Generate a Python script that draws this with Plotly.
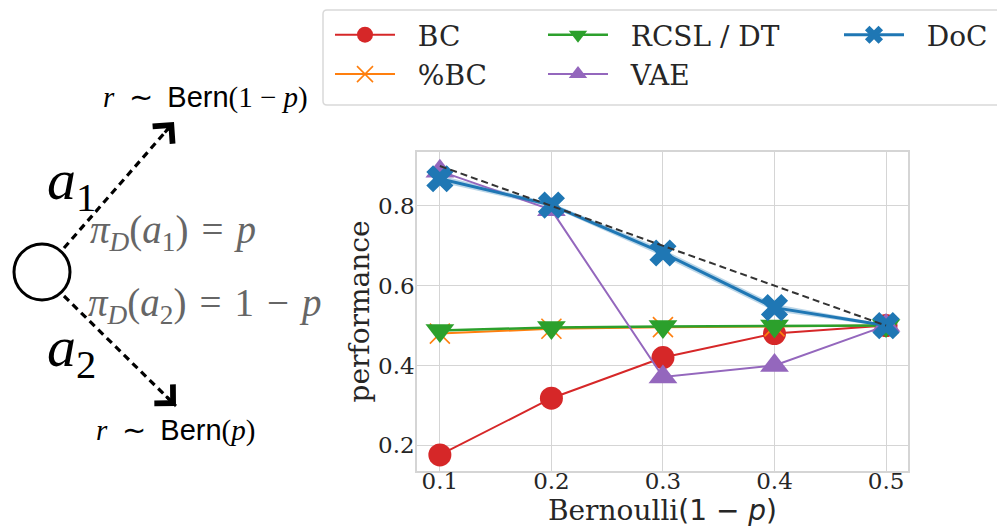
import plotly.graph_objects as go

# ---------------- data ----------------
x_vals = [0.1, 0.2, 0.3, 0.4, 0.5]
bc = [0.176, 0.318, 0.420, 0.480, 0.500]
pct_bc = [0.480, 0.492, 0.496, 0.498, 0.500]
rcsl_dt = [0.488, 0.495, 0.498, 0.499, 0.500]
vae = [0.887, 0.790, 0.371, 0.400, 0.500]
doc = [0.868, 0.802, 0.682, 0.545, 0.500]
doc_lo = [0.859, 0.797, 0.673, 0.536, 0.497]
doc_hi = [0.877, 0.807, 0.691, 0.554, 0.503]
optimal = [0.9, 0.8, 0.7, 0.6, 0.5]
x_ticks = [0.1, 0.2, 0.3, 0.4, 0.5]
y_ticks = [0.2, 0.4, 0.6, 0.8]

# ---------------- geometry helpers ----------------
W, H = 997, 527
ML, MR, MT, MB = 417, 89, 152, 56
PW, PH = W - ML - MR, H - MT - MB


def px(x):
    return (x - ML) / PW


def py(y):
    return (H - MB - y) / PH


SERIF = "DejaVu Serif"
TXT = "#262626"
NB = "\u00a0\u00a0"

fig = go.Figure()

# DoC band
fig.add_trace(go.Scatter(x=x_vals + x_vals[::-1], y=doc_hi + doc_lo[::-1], fill="toself",
                         fillcolor="rgba(31,119,180,0.3)", line=dict(width=0),
                         showlegend=False, hoverinfo="skip"))

common = dict(mode="lines+markers")
fig.add_trace(go.Scatter(x=x_vals, y=bc, name=NB + "BC", legend="legend", **common,
                         line=dict(color="#d62728", width=2),
                         marker=dict(symbol="circle", size=23, color="#d62728")))
fig.add_trace(go.Scatter(x=x_vals, y=pct_bc, name=NB + "%BC", legend="legend", **common,
                         line=dict(color="#ff7f0e", width=2),
                         marker=dict(symbol="x-thin-open", size=20, color="#ff7f0e",
                                     line=dict(width=1.6, color="#ff7f0e"))))
fig.add_trace(go.Scatter(x=x_vals, y=rcsl_dt, name=NB + "RCSL / DT", legend="legend2", **common,
                         line=dict(color="#2ca02c", width=2.5),
                         marker=dict(symbol="triangle-down", size=25, color="#2ca02c")))
fig.add_trace(go.Scatter(x=x_vals, y=vae, name=NB + "VAE", legend="legend2", **common,
                         line=dict(color="#9467bd", width=2),
                         marker=dict(symbol="triangle-up", size=25, color="#9467bd")))
fig.add_trace(go.Scatter(x=x_vals, y=doc, name=NB + "DoC", legend="legend3", **common,
                         line=dict(color="#1f77b4", width=3),
                         marker=dict(symbol="x", size=24, color="#1f77b4")))
fig.add_trace(go.Scatter(x=x_vals, y=optimal, mode="lines", showlegend=False,
                         line=dict(color="#333333", width=2, dash="7px,4px")))

leg_common = dict(font=dict(family=SERIF, size=28, color=TXT), bgcolor="rgba(0,0,0,0)",
                  orientation="v", xanchor="left", yanchor="top", itemwidth=60,
                  traceorder="normal", tracegroupgap=0)

# ---------------- diagram ----------------
shapes = []
annotations = []
# legend frame
shapes.append(dict(type="path", xref="paper", yref="paper",
                   path=f"M {px(1010)},{py(10)} L {px(327)},{py(10)} Q {px(323)},{py(10)} {px(323)},{py(14)} "
                        f"L {px(323)},{py(101)} Q {px(323)},{py(105)} {px(327)},{py(105)} L {px(1010)},{py(105)}",
                   line=dict(color="#d9d9d9", width=1.5)))
# circle
shapes.append(dict(type="circle", xref="paper", yref="paper",
                   x0=px(14), x1=px(70), y0=py(300), y1=py(244),
                   line=dict(color="black", width=3)))
# dashed arrows
arrows = [((64, 248), (174, 122)), ((64, 296), (176, 406))]
for (x0, y0), (x1, y1) in arrows:
    shapes.append(dict(type="line", xref="paper", yref="paper",
                       x0=px(x0), y0=py(y0), x1=px(x1), y1=py(y1),
                       line=dict(color="black", width=3.2, dash="7px,5px")))
    dx, dy = x1 - x0, y1 - y0
    n = (dx * dx + dy * dy) ** 0.5
    annotations.append(dict(xref="paper", yref="paper", x=px(x1), y=py(y1), text="",
                            showarrow=True, arrowhead=4, arrowsize=1.7, arrowwidth=3,
                            arrowcolor="black", ax=-dx / n * 16, ay=-dy / n * 16))

MATH = "Liberation Serif"
SANS = "Liberation Sans"
EN = "\u2002"
TH = "\u2004"
QS = "\u2005"
texts = [
    (205, 97, "center", f'<i>r</i>{EN}∼{EN}<span style="font-family:{SANS}">Bern</span>(1{QS}−{QS}<i>p</i>)', 29, "black"),
    (175, 430, "center", f'<i>r</i>{EN}∼{EN}<span style="font-family:{SANS}">Bern</span>(<i>p</i>)', 29, "black"),
    (45, 183, "left", "<i>a</i><sub>1</sub>", 58, "black"),
    (45, 350, "left", "<i>a</i><sub>2</sub>", 58, "black"),
    (88, 232, "left", f"<i>π</i><sub><i>D</i></sub>(<i>a</i><sub>1</sub>){TH}={TH}<i>p</i>", 39, "#666666"),
    (86, 305, "left", f"<i>π</i><sub><i>D</i></sub>(<i>a</i><sub>2</sub>){TH}={TH}1{TH}−{TH}<i>p</i>", 39, "#666666"),
]
for x, y, anc, t, s, c in texts:
    annotations.append(dict(xref="paper", yref="paper", x=px(x), y=py(y), text=t,
                            xanchor=anc, yanchor="middle", showarrow=False,
                            font=dict(family=MATH, size=s, color=c)))

fig.update_layout(
    width=W, height=H,
    margin=dict(l=ML, r=MR, t=MT, b=MB, autoexpand=False),
    paper_bgcolor="white", plot_bgcolor="white",
    shapes=shapes, annotations=annotations,
    legend=dict(x=px(330), y=py(10), **leg_common),
    legend2=dict(x=px(543), y=py(10), **leg_common),
    legend3=dict(x=px(839), y=py(10), **leg_common),
    xaxis=dict(range=[0.0795, 0.5197], tickvals=x_ticks, ticktext=[f"{v:.1f}" for v in x_ticks],
               showgrid=True, gridcolor="#d5d5d5", gridwidth=1.2, zeroline=False,
               showline=True, mirror=True, linecolor="#d5d5d5", linewidth=1.5,
               ticks="", ticklabelstandoff=-11, automargin=False,
               tickfont=dict(family=SERIF, size=23, color=TXT),
               title=dict(text=f'Bernoulli<span style="font-family:DejaVu Sans">(1 − <i>p</i>)</span>',
                          standoff=11, font=dict(family=SERIF, size=28, color=TXT))),
    yaxis=dict(range=[0.1356, 0.935], tickvals=y_ticks, ticktext=[f"{v:.1f}" for v in y_ticks],
               showgrid=True, gridcolor="#d5d5d5", gridwidth=1.2, zeroline=False,
               showline=True, mirror=True, linecolor="#d5d5d5", linewidth=1.5,
               ticks="", ticklabelstandoff=-4, automargin=False,
               tickfont=dict(family=SERIF, size=23, color=TXT),
               title=dict(text="performance", standoff=0,
                          font=dict(family=SERIF, size=28, color=TXT))),
)

fig.write_html("out.html", config={"displayModeBar": False},
               post_script="document.body.style.margin='0px';")
